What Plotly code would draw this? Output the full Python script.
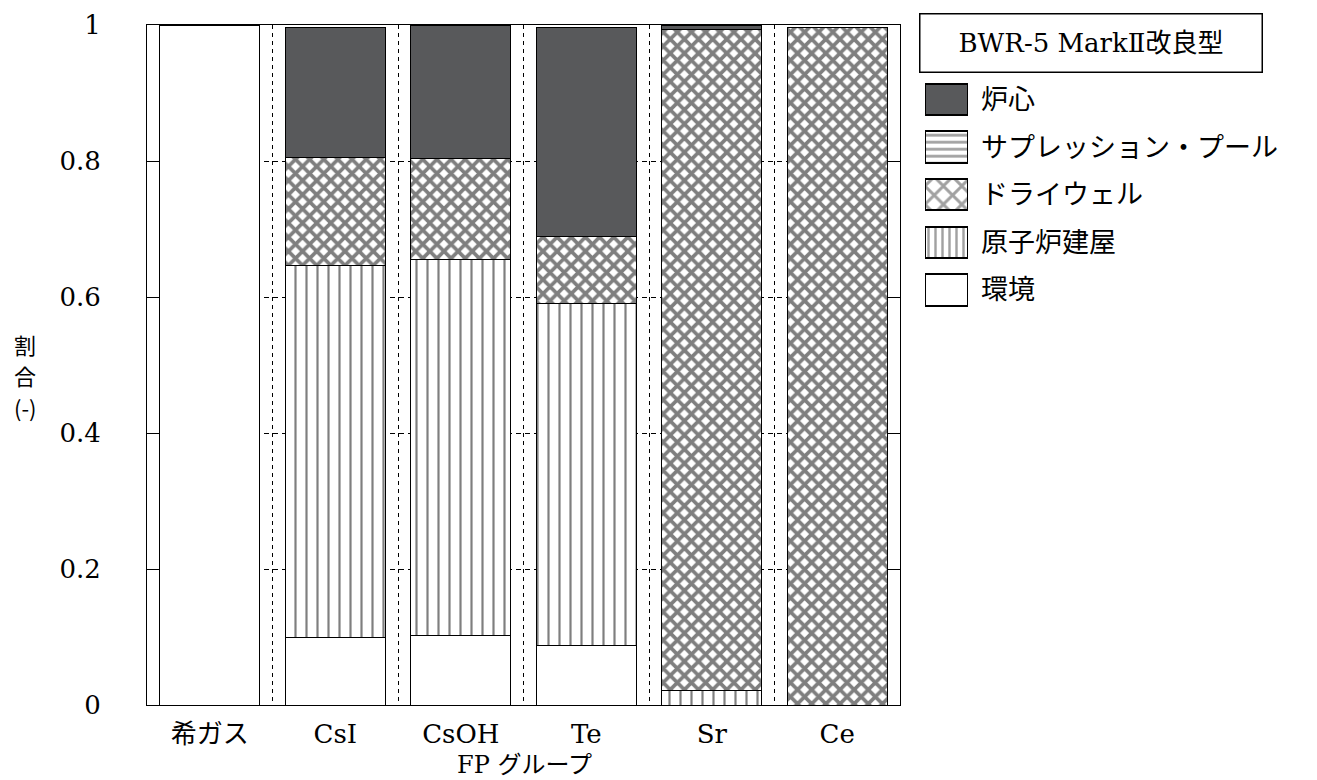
import plotly.graph_objects as go

# ---------------- data ----------------
categories = ["希ガス", "CsI", "CsOH", "Te", "Sr", "Ce"]

# stacked from bottom to top
kankyo = [1.000, 0.100, 0.102, 0.088, 0.000, 0.000]        # 環境
genshiro_tateya = [0.000, 0.547, 0.553, 0.503, 0.022, 0.000]  # 原子炉建屋
suppression_pool = [0.000, 0.000, 0.000, 0.000, 0.000, 0.000] # サプレッション・プール
drywell = [0.000, 0.158, 0.148, 0.098, 0.971, 0.997]        # ドライウェル
roshin = [0.000, 0.192, 0.196, 0.308, 0.007, 0.000]         # 炉心

y_tick_vals = [0, 0.2, 0.4, 0.6, 0.8, 1]
y_tick_text = ["0", "0.2", "0.4", "0.6", "0.8", "1"]

legend_title = "BWR-5 MarkⅡ改良型"
legend_names = ["炉心", "サプレッション・プール", "ドライウェル", "原子炉建屋", "環境"]
x_title = "FP グループ"
y_title_lines = ["割", "合", "(-)"]

# ---------------- styles ----------------
SERIF = "'DejaVu Serif', 'Noto Sans CJK JP', serif"
CORE_GRAY = "#58595b"

series = [
    ("環境", kankyo, dict(color="white")),
    ("原子炉建屋", genshiro_tateya,
     dict(color="white", pattern=dict(shape="|", size=11, solidity=0.2, fgcolor="black", bgcolor="white"))),
    ("サプレッション・プール", suppression_pool,
     dict(color="white", pattern=dict(shape="-", size=8, solidity=0.3, fgcolor="black", bgcolor="white"))),
    ("ドライウェル", drywell,
     dict(color="white", pattern=dict(shape="x", size=10, solidity=0.6, fgcolor="black", bgcolor="white"))),
    ("炉心", roshin, dict(color=CORE_GRAY)),
]

fig = go.Figure()
for name, vals, mk in series:
    mk = dict(mk)
    mk["line"] = dict(color="black", width=1)
    fig.add_trace(go.Bar(
        x=categories, y=[v if v > 0 else None for v in vals], name=name,
        marker=mk, width=0.8, showlegend=False,
        xaxis="x", yaxis="y",
    ))

# legend swatches drawn through a small auxiliary axis
legend_swatch_len = [1] * len(legend_names)
fig.add_trace(go.Bar(
    x=legend_swatch_len, y=legend_names, orientation="h",
    xaxis="x2", yaxis="y2", width=0.66, showlegend=False, hoverinfo="skip",
    marker=dict(
        color=[CORE_GRAY, "white", "white", "white", "white"],
        line=dict(color="black", width=2),
        pattern=dict(shape=["", "-", "x", "|", ""],
                     size=[8, 7, 13, 7, 8],
                     solidity=[0.2, 0.4, 0.4, 0.35, 0.2],
                     fgcolor="black"),
    ),
))

L, R, T, B = 147, 10, 25, 75
W, H = 1317, 780
pw = W - L - R
ph = H - T - B


def px_x(p):
    return (p - L) / pw


def px_y(p):
    return (H - B - p) / ph


annotations = [
    dict(text=legend_title, xref="paper", yref="paper",
         x=px_x(1090.5), y=px_y(42.5), xanchor="center", yanchor="middle",
         showarrow=False, bordercolor="black", borderwidth=1.5, borderpad=0,
         width=341, height=57, font=dict(family=SERIF, size=26)),
    dict(text=x_title, xref="paper", yref="paper",
         x=px_x(524), y=px_y(765), xanchor="center", yanchor="middle",
         showarrow=False, font=dict(family=SERIF, size=24)),
]
for line, yc in zip(y_title_lines, [344, 375, 407]):
    annotations.append(dict(
        text=line, xref="paper", yref="paper", x=px_x(25), y=px_y(yc),
        xanchor="center", yanchor="middle", showarrow=False,
        font=dict(family="'Noto Sans CJK JP', sans-serif", size=22)))

fig.update_layout(
    width=W, height=H, autosize=False,
    margin=dict(l=L, r=R, t=T, b=B, pad=0),
    paper_bgcolor="white", plot_bgcolor="white",
    barmode="stack", bargap=0.2,
    font=dict(family=SERIF, size=26, color="black"),
    xaxis=dict(
        domain=[0, px_x(900)], type="category", range=[-0.5, 5.5],
        tickson="boundaries", ticks="", showgrid=True, gridcolor="black",
        griddash="4px,4px", gridwidth=1,
        showline=True, mirror=True, linecolor="black", linewidth=1,
        tickfont=dict(family=SERIF, size=26), ticklabelstandoff=6,
        zeroline=False,
    ),
    yaxis=dict(
        domain=[0, 1], range=[0, 1], tickvals=y_tick_vals, ticktext=y_tick_text,
        ticks="inside", ticklen=12, tickcolor="black", tickwidth=1,
        showgrid=True, gridcolor="black", griddash="5px,4px", gridwidth=1,
        showline=True, mirror="ticks", linecolor="black", linewidth=1,
        tickfont=dict(family=SERIF, size=26), ticklabelstandoff=40,
        zeroline=False,
    ),
    xaxis2=dict(domain=[px_x(925), px_x(968)], anchor="y2", range=[0, 1], visible=False),
    yaxis2=dict(
        domain=[px_y(313.8), px_y(75.7)], anchor="x2", type="category",
        categoryorder="array", categoryarray=legend_names[::-1],
        side="right", ticks="", showline=False, showgrid=False, zeroline=False,
        tickfont=dict(family=SERIF, size=27), ticklabelstandoff=12,
    ),
    annotations=annotations,
)

fig.write_html("out.html")
